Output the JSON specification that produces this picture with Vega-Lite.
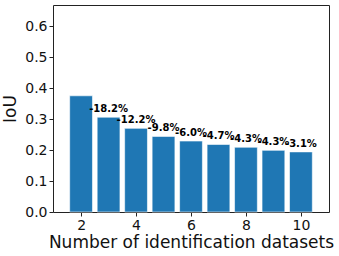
{
  "$schema": "https://vega.github.io/schema/vega-lite/v6.json",
  "width": 276,
  "height": 207,
  "autosize": {"type": "none"},
  "padding": {"left": 53, "top": 5, "right": 10, "bottom": 44},
  "background": "white",
  "config": {
    "font": "DejaVu Sans",
    "view": {"stroke": "#222", "strokeWidth": 1},
    "axis": {
      "grid": false,
      "domain": false,
      "tickColor": "#222",
      "tickSize": 4,
      "labelFont": "DejaVu Sans",
      "labelFontSize": 14,
      "labelColor": "#111",
      "titleFont": "DejaVu Sans",
      "titleFontSize": 17,
      "titleFontWeight": "normal",
      "titleColor": "#111"
    }
  },
  "data": {
    "values": [
      {"n": 2, "iou": 0.375, "label": ""},
      {"n": 3, "iou": 0.306, "label": "-18.2%"},
      {"n": 4, "iou": 0.270, "label": "-12.2%"},
      {"n": 5, "iou": 0.244, "label": "-9.8%"},
      {"n": 6, "iou": 0.229, "label": "-6.0%"},
      {"n": 7, "iou": 0.218, "label": "-4.7%"},
      {"n": 8, "iou": 0.209, "label": "-4.3%"},
      {"n": 9, "iou": 0.199, "label": "-4.3%"},
      {"n": 10, "iou": 0.194, "label": "-3.1%"}
    ]
  },
  "encoding": {
    "x": {
      "field": "n",
      "type": "quantitative",
      "scale": {"domain": [1.16, 10.84], "nice": false, "zero": false},
      "axis": {"values": [2, 4, 6, 8, 10], "title": "Number of identification datasets", "titlePadding": 2, "labelPadding": 2}
    },
    "y": {
      "field": "iou",
      "type": "quantitative",
      "scale": {"domain": [0, 0.668], "nice": false},
      "axis": {"values": [0, 0.1, 0.2, 0.3, 0.4, 0.5, 0.6], "format": ".1f", "title": "IoU", "titlePadding": 5}
    }
  },
  "layer": [
    {
      "mark": {"type": "bar", "width": 22.8, "color": "#1f77b4", "stroke": "white", "strokeWidth": 0.6}
    },
    {
      "mark": {"type": "text", "fontSize": 10, "fontWeight": "bold", "baseline": "bottom", "dy": -3, "color": "black"},
      "encoding": {"text": {"field": "label"}}
    }
  ]
}
